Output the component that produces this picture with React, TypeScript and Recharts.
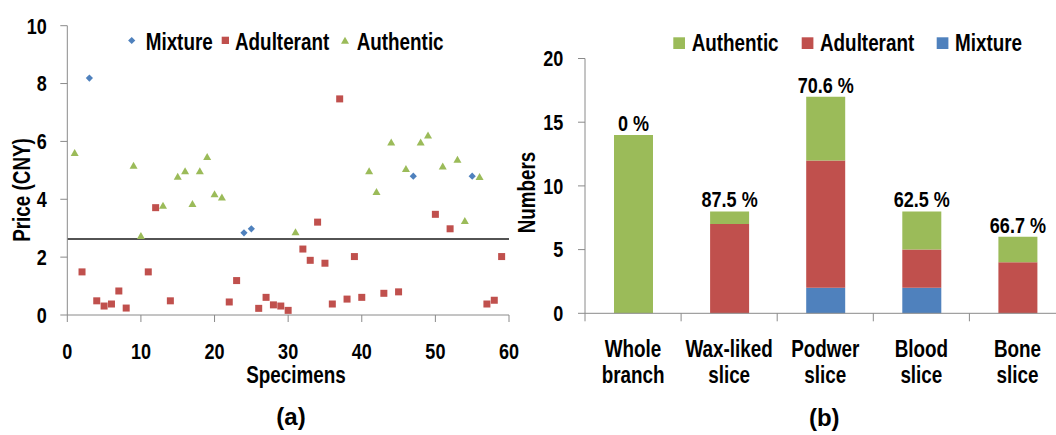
import React from "react";
import {
  ScatterChart,
  Scatter,
  BarChart,
  Bar,
  XAxis,
  YAxis,
  ReferenceLine,
  Label,
  LabelList,
} from "recharts";

const FONT = "'Liberation Sans', Arial, sans-serif";
const SQUEEZE = 0.82; // the figure uses a narrow bold face
const GREEN = "#9BBB59";
const RED = "#C0504D";
const BLUE = "#4F81BD";
const AXIS = "#8A8A8A";

// (a) [specimen no., price in CNY]
const mixture: [number, number][] = [[3, 8.19], [24, 2.84], [25, 2.98], [47, 4.8], [55, 4.8]];
const adulterant: [number, number][] = [
  [2, 1.49], [4, 0.49], [5, 0.31], [6, 0.38], [7, 0.83], [8, 0.24], [11, 1.49], [12, 3.71],
  [14, 0.49], [22, 0.45], [23, 1.19], [26, 0.23], [27, 0.61], [28, 0.35], [29, 0.31], [30, 0.16],
  [32, 2.28], [33, 1.89], [34, 3.21], [35, 1.79], [36, 0.38], [37, 7.47], [38, 0.55], [39, 2.02],
  [40, 0.61], [43, 0.75], [45, 0.8], [50, 3.48], [52, 2.98], [57, 0.38], [58, 0.51], [59, 2.02],
];
const authentic: [number, number][] = [
  [1, 5.61], [9, 5.17], [10, 2.74], [13, 3.78], [15, 4.79], [16, 4.98], [17, 3.84], [18, 4.98],
  [19, 5.47], [20, 4.18], [21, 4.07], [31, 2.87], [41, 4.98], [42, 4.26], [44, 5.97], [46, 5.05],
  [48, 5.97], [49, 6.21], [51, 5.14], [53, 5.37], [54, 3.26], [56, 4.78],
];
const priceThreshold = 2.63;
const specimenTicks = [0, 10, 20, 30, 40, 50, 60];
const priceTicks = [0, 2, 4, 6, 8, 10];

// (b) counts per sample type
const sampleTypes = ["Whole branch", "Wax-liked slice", "Podwer slice", "Blood slice", "Bone slice"];
const authenticCounts = [14, 1, 5, 3, 2];
const adulterantCounts = [0, 7, 10, 3, 4];
const mixtureCounts = [0, 0, 2, 2, 0];
const adulterationRates = ["0 %", "87.5 %", "70.6 %", "62.5 %", "66.7 %"];
const countTicks = [0, 5, 10, 15, 20];

const toPoints = (pairs: [number, number][]) => pairs.map(([x, y]) => ({ x, y }));

const barData = sampleTypes.map((name, i) => ({
  name,
  authentic: authenticCounts[i],
  adulterant: adulterantCounts[i],
  mixture: mixtureCounts[i],
  rate: adulterationRates[i],
}));

const diamondPath = (cx: number, cy: number, r: number) =>
  `M${cx},${cy - r}L${cx + r},${cy}L${cx},${cy + r}L${cx - r},${cy}Z`;
const trianglePath = (cx: number, cy: number) =>
  `M${cx},${cy - 3.8}L${cx + 4},${cy + 3.2}L${cx - 4},${cy + 3.2}Z`;

const DiamondDot = (p: any) => <path d={diamondPath(p.cx, p.cy, 3.6)} fill={BLUE} />;
const SquareDot = (p: any) => <rect x={p.cx - 3.5} y={p.cy - 3.5} width={7} height={7} fill={RED} />;
const TriangleDot = (p: any) => <path d={trianglePath(p.cx, p.cy)} fill={GREEN} />;

// bold text squeezed horizontally
const NText = ({ x, y, anchor = "start", size = 23, dy, rotate = false, children }: any) => (
  <text
    transform={`translate(${x},${y})${rotate ? " rotate(-90)" : ""} scale(${SQUEEZE},1)`}
    textAnchor={anchor}
    dy={dy}
    fontSize={size}
    fontWeight={700}
    fontFamily={FONT}
    fill="#000"
  >
    {children}
  </text>
);

const YTick = (p: any) => (
  <NText x={p.x} y={p.y} anchor="end" size={22} dy="0.355em">{p.payload.value}</NText>
);
const XTick = (p: any) => (
  <NText x={p.x} y={p.y} anchor="middle" size={22} dy="0.71em">{p.payload.value}</NText>
);

const BAR_PLOT_W = 480.5;
const BAND = BAR_PLOT_W / sampleTypes.length;

const CategoryTick = (props: any) => {
  const { x, y, payload, index } = props;
  const words = String(payload.value).split(" ");
  const half = BAND / 2;
  return (
    <g>
      <line x1={x - half} x2={x - half} y1={y} y2={y + 8} stroke={AXIS} />
      {index === sampleTypes.length - 1 && (
        <line x1={x + half} x2={x + half} y1={y} y2={y + 8} stroke={AXIS} />
      )}
      <NText x={x} y={y + 44} anchor="middle">{words[0]}</NText>
      <NText x={x} y={y + 70} anchor="middle">{words.slice(1).join(" ")}</NText>
    </g>
  );
};

const RateLabel = (props: any) => {
  const { x, y, width, value } = props;
  return (
    <NText x={x + width / 2} y={y - 4} anchor="middle" size={22}>
      {value}
    </NText>
  );
};

const Legends = () => (
  <svg width={1056} height={70} style={{ position: "absolute", left: 0, top: 0, pointerEvents: "none" }}>
    <path d={diamondPath(131.7, 40.5, 3.6)} fill={BLUE} />
    <NText x={145.7} y={50}>Mixture</NText>
    <rect x={221.7} y={36.7} width={7.3} height={7.3} fill={RED} />
    <NText x={235} y={50}>Adulterant</NText>
    <path d={trianglePath(345, 40.5)} fill={GREEN} />
    <NText x={356.7} y={50}>Authentic</NText>

    <rect x={673.3} y={37.3} width={11.7} height={11.7} fill={GREEN} />
    <NText x={691.7} y={51}>Authentic</NText>
    <rect x={801.7} y={37.3} width={11.7} height={11.7} fill={RED} />
    <NText x={820} y={51}>Adulterant</NText>
    <rect x={936.7} y={37.3} width={11.7} height={11.7} fill={BLUE} />
    <NText x={955} y={51}>Mixture</NText>
  </svg>
);

export default function App() {
  return (
    <div
      style={{
        position: "absolute",
        left: 0,
        top: 0,
        width: 1056,
        height: 435,
        overflow: "hidden",
        background: "#fff",
      }}
    >
      <div style={{ position: "absolute", left: 0, top: 0 }}>
        <ScatterChart width={520} height={435} margin={{ top: 25.7, right: 11, bottom: 0, left: 0 }}>
          <XAxis
            type="number"
            dataKey="x"
            domain={[0, 60]}
            ticks={specimenTicks}
            height={120}
            stroke={AXIS}
            tickSize={7}
            tickMargin={21}
            tick={<XTick />}
          >
            <Label
              content={() => (
                <g>
                  <NText x={296} y={383} anchor="middle">Specimens</NText>
                  <text x={291} y={425} textAnchor="middle" fontFamily={FONT} fontWeight={700} fontSize={24} fill="#000">
                    (a)
                  </text>
                </g>
              )}
            />
          </XAxis>
          <YAxis
            type="number"
            dataKey="y"
            domain={[0, 10]}
            ticks={priceTicks}
            width={67.3}
            stroke={AXIS}
            tickSize={7}
            tickMargin={13.6}
            tick={<YTick />}
          >
            <Label
              content={() => (
                <NText x={30} y={190} rotate anchor="middle">Price (CNY)</NText>
              )}
            />
          </YAxis>
          <ReferenceLine y={priceThreshold} stroke="#1a1a1a" strokeWidth={1.5} />
          <Scatter name="Mixture" data={toPoints(mixture)} shape={DiamondDot} isAnimationActive={false} />
          <Scatter name="Adulterant" data={toPoints(adulterant)} shape={SquareDot} isAnimationActive={false} />
          <Scatter name="Authentic" data={toPoints(authentic)} shape={TriangleDot} isAnimationActive={false} />
        </ScatterChart>
      </div>
      <div style={{ position: "absolute", left: 500, top: 0 }}>
        <BarChart
          width={570}
          height={435}
          data={barData}
          margin={{ top: 58.5, right: 4.5, bottom: 0, left: 0 }}
          barSize={39}
        >
          <XAxis
            dataKey="name"
            height={121.7}
            stroke={AXIS}
            tickLine={false}
            tickSize={0}
            tickMargin={0}
            interval={0}
            tick={<CategoryTick />}
          >
            <Label
              content={() => (
                <text x={324.3} y={426} textAnchor="middle" fontFamily={FONT} fontWeight={700} fontSize={24} fill="#000">
                  (b)
                </text>
              )}
            />
          </XAxis>
          <YAxis
            type="number"
            domain={[0, 20]}
            ticks={countTicks}
            width={85}
            stroke={AXIS}
            tickSize={7}
            tickMargin={14.7}
            tick={<YTick />}
          >
            <Label
              content={() => (
                <NText x={35} y={192.5} rotate anchor="middle">Numbers</NText>
              )}
            />
          </YAxis>
          <Bar dataKey="mixture" name="Mixture" stackId="s" fill={BLUE} isAnimationActive={false} />
          <Bar dataKey="adulterant" name="Adulterant" stackId="s" fill={RED} isAnimationActive={false} />
          <Bar dataKey="authentic" name="Authentic" stackId="s" fill={GREEN} isAnimationActive={false}>
            <LabelList dataKey="rate" content={RateLabel} />
          </Bar>
        </BarChart>
      </div>
      <Legends />
    </div>
  );
}
